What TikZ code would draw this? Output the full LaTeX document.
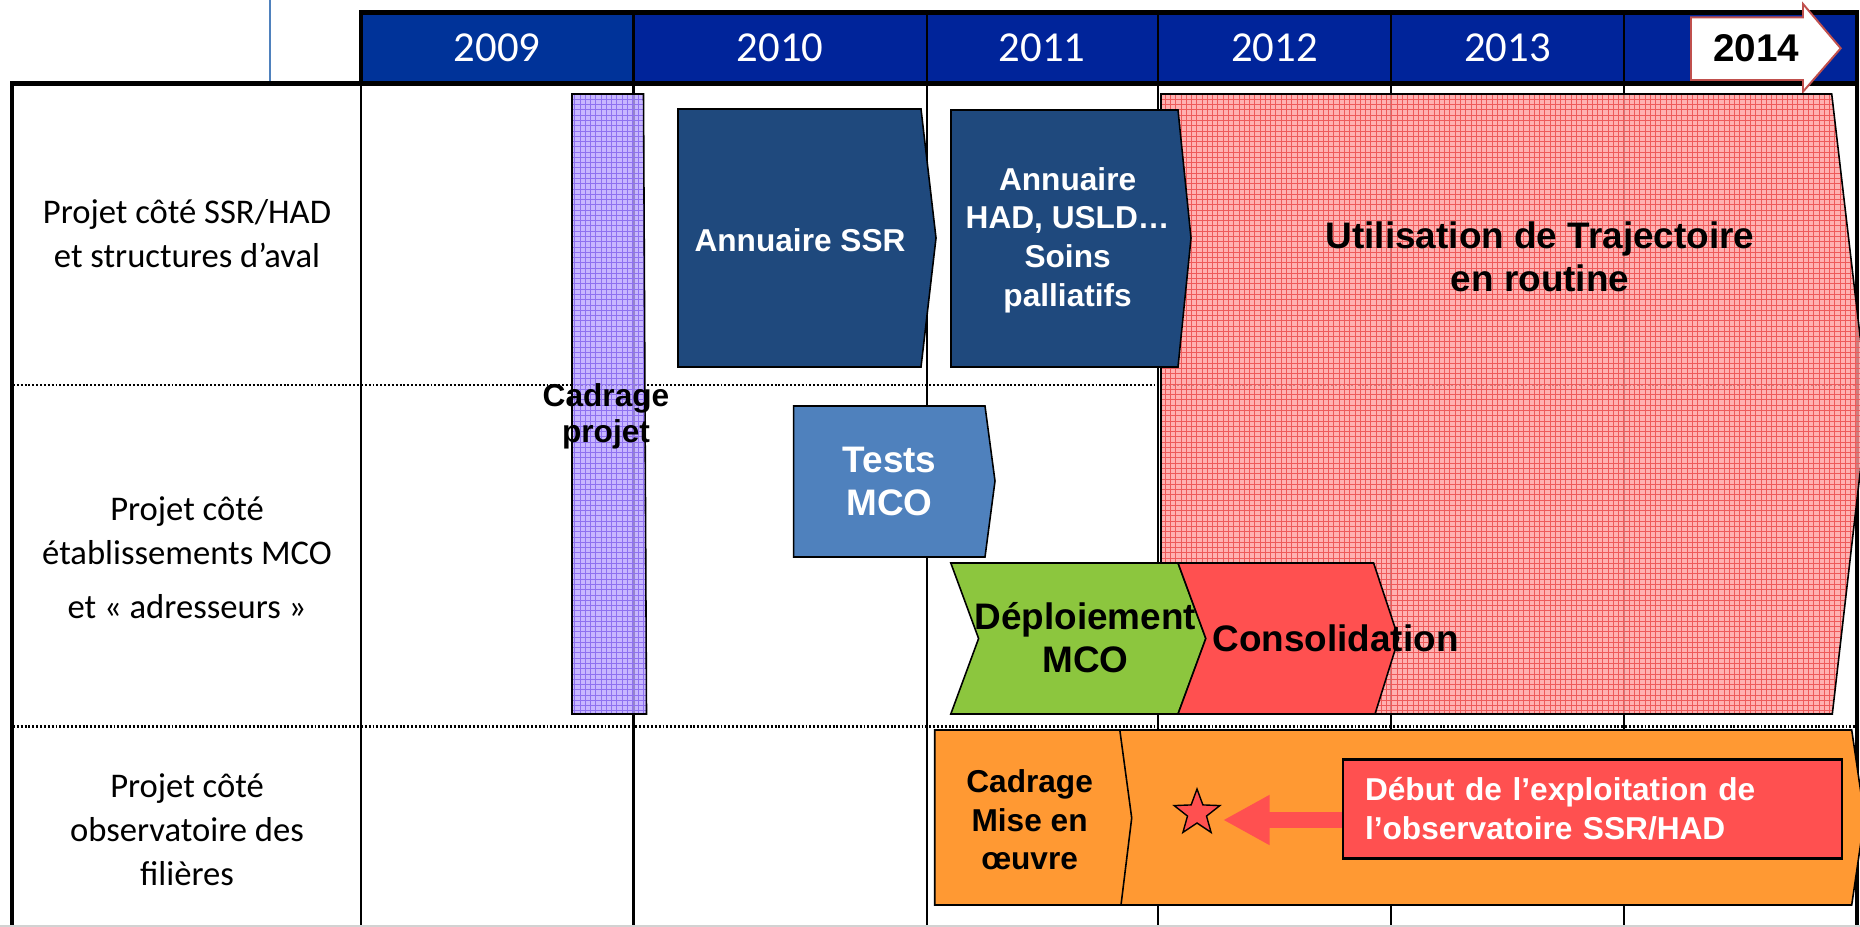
\documentclass[tikz,border=0pt]{standalone}
\usepackage{fontspec}
\setmainfont{Carlito}
\newfontfamily\arialfont{Liberation Sans}
\usepackage{tikz}
\usetikzlibrary{arrows.meta,patterns,shapes.geometric}
\definecolor{navy}{HTML}{00249A}
\definecolor{navylight}{HTML}{003399}
\definecolor{thinblue}{HTML}{4F81BD}
\definecolor{annublue}{HTML}{1F497D}
\definecolor{testblue}{HTML}{4F81BD}
\definecolor{deplgreen}{HTML}{8CC63E}
\definecolor{consred}{HTML}{FF5050}
\definecolor{obsorange}{HTML}{FF9933}
\definecolor{trajpink}{HTML}{FF9E9E}
\definecolor{trajgrid}{HTML}{EE5A5A}
\definecolor{cadlilac}{HTML}{BBA5FF}
\definecolor{cadgrid}{HTML}{8F72F0}
\definecolor{edgered}{HTML}{C0504D}

\begin{document}
\begin{tikzpicture}[x=0.2mm,y=-0.2mm]
\tikzstyle{every node}+=[inner sep=0pt]
\tikzstyle{rowlabel}=[font=\fontsize{19.7}{25}\selectfont,align=center]
\tikzstyle{yearlabel}=[font=\fontsize{24.3}{28}\selectfont,text=white]
\tikzstyle{tasktext}=[font=\arialfont\bfseries\fontsize{18}{22}\selectfont,align=center]
\tikzstyle{bigtext}=[font=\arialfont\bfseries\fontsize{21}{24.5}\selectfont,align=center]
\tikzstyle{gridline}=[line width=1.2pt]
\tikzstyle{thickline}=[line width=2.8pt,line join=miter]
\tikzstyle{rowsep}=[line width=1.5pt,dash pattern=on 1.1pt off 1.1pt]
\tikzstyle{taskbox}=[draw=black,line width=0.9pt,line join=miter]
\useasboundingbox (0,0) rectangle (1860,927);
\clip (0,0) rectangle (1860,927);
\fill [white] (0,0) rectangle (1860,927);
\draw [thinblue,line width=0.8pt] (270,0) -- (270,82);
\fill [navylight] (361,13) rectangle (633.5,83);
\fill [navy] (633.5,13) rectangle (1857,83);
\foreach \x in {633.5,927,1158,1391,1624}
  \draw [gridline] (\x,13) -- (\x,927);
\draw [gridline] (361,83) -- (361,927);
\draw [rowsep] (13,385) -- (1857,385);
\draw [rowsep] (13,726.5) -- (1857,726.5);
\draw [thickline] (361,83) -- (361,12.5) -- (1857,12.5) -- (1857,927);
\draw [thickline] (12,927) -- (12,83.3) -- (1857,83.3);
\draw [gray!35,line width=0.6pt] (0,926) -- (1860,926);
\node [yearlabel] (y2009) at (497,48) {2009};
\node [yearlabel] (y2010) at (780,48) {2010};
\node [yearlabel] (y2011) at (1042,48) {2011};
\node [yearlabel] (y2012) at (1274.5,48) {2012};
\node [yearlabel] (y2013) at (1507.5,48) {2013};
\draw [edgered,fill=white,line width=1.1pt,line join=miter] (1691,17.3) -- (1803,17.3) -- (1803,4) -- (1840.7,48.3) -- (1803,91.7) -- (1803,80) -- (1691,80) -- cycle;
\node [font=\arialfont\bfseries\fontsize{22}{26}\selectfont] (y2014) at (1756,48) {2014};
\node [rowlabel] (rowssr) at (187,234) {Projet côté SSR/HAD\\et structures d’aval};
\node [rowlabel] (rowmco) at (187,558) {Projet côté\\établissements MCO\\[5.8pt]et « adresseurs »};
\node [rowlabel] (rowobs) at (187,829.5) {Projet côté\\observatoire des\\filières};
\draw [taskbox,preaction={fill=cadlilac,fill opacity=0.8},pattern=grid,pattern color=cadgrid] (572,94) -- (643.5,94) -- (646.5,714) -- (572,714) -- cycle;
\draw [taskbox,preaction={fill=trajpink,fill opacity=0.8},pattern=grid,pattern color=trajgrid] (1161,94) -- (1831.7,94) -- (1868,404) -- (1832.3,714) -- (1161,714) -- cycle;
\draw [taskbox,fill=annublue] (678,109) -- (921,109) -- (936,238) -- (921,367) -- (678,367) -- cycle;
\draw [taskbox,fill=annublue] (951,110) -- (1178,110) -- (1191,238) -- (1178,367) -- (951,367) -- cycle;
\draw [taskbox,fill=testblue] (793.6,406) -- (985,406) -- (995,481) -- (985,557) -- (793.6,557) -- cycle;
\draw [taskbox,fill=deplgreen] (950.8,563) -- (1178,563) -- (1205.8,638.5) -- (1178,714) -- (950.8,714) -- (978.6,638.5) -- cycle;
\draw [taskbox,fill=consred] (1178,563) -- (1373.6,563) -- (1398.6,638.5) -- (1375,714) -- (1178,714) -- (1205.8,638.5) -- cycle;
\draw [taskbox,fill=obsorange] (1110,730) -- (1851.7,730) -- (1864.5,817.5) -- (1851.7,905) -- (1110,905) -- cycle;
\draw [taskbox,fill=obsorange] (934.7,730) -- (1119.8,730) -- (1131.7,818) -- (1121,905) -- (934.7,905) -- cycle;
\node [tasktext,text=white] (ssr) at (800,240) {Annuaire SSR};
\node [tasktext,text=white] (had) at (1067.6,240) {Annuaire\\HAD, USLD…\\Soins\\palliatifs};
\node [bigtext] (traj) at (1540,256.5) {Utilisation de Trajectoire\\en routine};
\node [bigtext,text=white] (tests) at (889.6,481.5) {Tests\\MCO};
\node [bigtext] (deploy) at (1085.4,638) {Déploiement\\MCO};
\node [bigtext] (consol) at (1335.5,638) {Consolidation};
\node [tasktext,font=\arialfont\bfseries\fontsize{18}{20.8}\selectfont] (cadrage) at (606,416.5) {Cadrage\\projet};
\node [tasktext] (miseoeuvre) at (1029.6,820) {Cadrage\\Mise en\\œuvre};
\node [tasktext,draw=black,line width=1.5pt,fill=consred,text=white,align=left,
  minimum width=99.8mm,minimum height=19.7mm,text width=91mm,inner xsep=4.4mm] (debut) at (1592.5,809)
  {Début de l’exploitation de\\l’observatoire SSR/HAD};
\node [star,star points=5,star point ratio=2.4,minimum size=9.6mm,draw=black,line width=0.8pt,fill=consred] (star) at (1197,813) {};
\coordinate (startip) at (1223,820);
\draw [consred,line width=9.1pt,-{Triangle[length=26.5pt,width=26.6pt]}] (debut.west |- startip) -- (startip);
\end{tikzpicture}
\end{document}
